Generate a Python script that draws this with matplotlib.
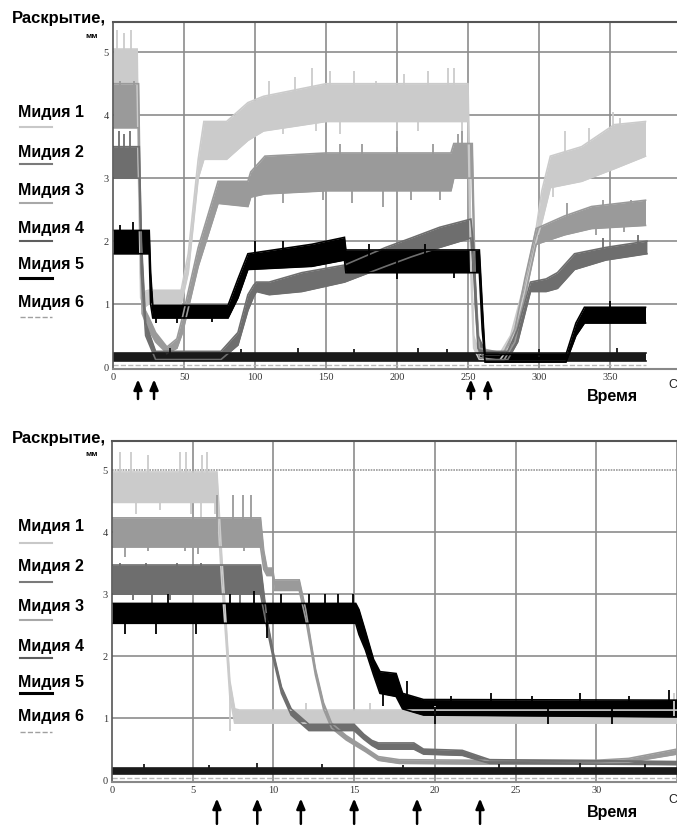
import numpy as np
import matplotlib
matplotlib.use("Agg")
import matplotlib.pyplot as plt
from matplotlib.lines import Line2D

W, H = 677, 827

# ---------------- data: top panel (time, s) ----------------
top_xticks = [0, 50, 100, 150, 200, 250, 300, 350]
top_arrows = [17.6, 28.9, 252, 264]

top_m1_t  = [0, 17, 18, 19.5, 22, 25, 48, 53, 60, 64, 80, 95, 106, 150, 250, 252, 254, 258, 272, 280, 290, 298, 302, 308, 330, 353, 375]
top_m1_lo = [4.5, 4.5, 3.0, 1.1, 0.95, 1.0, 1.0, 1.5, 3.0, 3.3, 3.3, 3.6, 3.75, 3.9, 3.9, 1.5, 0.3, 0.12, 0.1, 0.35, 1.2, 2.0, 2.3, 2.85, 2.95, 3.15, 3.35]
top_m1_hi = [5.05, 5.05, 3.3, 1.4, 1.2, 1.22, 1.22, 1.8, 3.3, 3.9, 3.9, 4.2, 4.3, 4.5, 4.5, 2.0, 0.5, 0.2, 0.2, 0.5, 1.35, 2.2, 2.8, 3.35, 3.5, 3.85, 3.9]
top_m1_spk_t = [3, 8, 13, 110, 120, 128, 140, 143, 153, 160, 170, 185, 200, 205, 215, 222, 236, 240, 246, 310, 318, 335, 352, 357]
top_m1_spk_v = [5.35, 5.3, 5.35, 4.55, 3.7, 4.6, 4.75, 3.75, 4.7, 3.7, 4.7, 4.55, 3.75, 4.65, 3.75, 4.7, 4.75, 4.75, 3.6, 2.7, 3.75, 3.8, 4.05, 3.95]

top_m2_t  = [0, 18, 19, 20.5, 25, 30, 38, 45, 49, 60, 74, 95, 97, 107, 150, 238, 240, 253, 255, 258, 275, 283, 290, 298, 318, 337, 375]
top_m2_lo = [3.8, 3.8, 2.5, 0.85, 0.6, 0.4, 0.22, 0.3, 0.55, 1.6, 2.6, 2.55, 2.7, 2.75, 2.8, 2.8, 3.0, 3.0, 1.0, 0.15, 0.1, 0.4, 1.1, 1.95, 2.1, 2.2, 2.25]
top_m2_hi = [4.5, 4.5, 3.0, 1.0, 0.8, 0.55, 0.32, 0.45, 0.8, 1.9, 2.95, 2.95, 3.1, 3.35, 3.4, 3.4, 3.55, 3.55, 1.4, 0.3, 0.22, 0.6, 1.4, 2.2, 2.4, 2.55, 2.65]
top_m2_spk_t = [5, 15, 120, 148, 160, 168, 175, 190, 200, 210, 225, 230, 243, 246, 300, 320, 340, 345, 360, 365]
top_m2_spk_v = [4.55, 4.55, 2.6, 2.65, 3.55, 2.6, 3.55, 2.55, 3.5, 2.65, 3.55, 2.65, 3.7, 3.75, 1.95, 2.6, 2.1, 2.65, 2.15, 2.65]

top_m3_t  = [0, 18.5, 20, 23, 30, 76, 88, 95, 99, 101, 110, 133, 163, 192, 210, 230, 252, 254, 257, 262, 278, 285, 294, 305, 313, 325, 347, 376]
top_m3_lo = [3.0, 3.0, 1.5, 0.5, 0.12, 0.12, 0.35, 0.9, 1.12, 1.2, 1.15, 1.2, 1.35, 1.6, 1.75, 1.9, 2.05, 1.5, 0.3, 0.12, 0.12, 0.4, 1.2, 1.2, 1.25, 1.55, 1.7, 1.8]
top_m3_hi = [3.5, 3.5, 2.0, 0.7, 0.25, 0.25, 0.55, 1.15, 1.3, 1.35, 1.35, 1.5, 1.62, 1.9, 2.05, 2.22, 2.35, 1.9, 0.5, 0.25, 0.25, 0.6, 1.35, 1.4, 1.5, 1.8, 1.9, 2.0]
top_m3_spk_t = [4, 8, 12, 345, 370]
top_m3_spk_v = [3.75, 3.7, 3.75, 2.05, 2.1]

top_m4_t  = [0, 375]
top_m4_lo = [0.1, 0.1]
top_m4_hi = [0.22, 0.22]
top_m4_spk_t = [40, 90, 130, 170, 215, 235, 300, 355]
top_m4_spk_v = [0.3, 0.28, 0.3, 0.28, 0.3, 0.28, 0.29, 0.3]

top_m5_t  = [0, 25.5, 26.5, 28, 81, 88, 95, 140, 163, 164, 258, 260, 262, 319, 326, 332, 375]
top_m5_lo = [1.8, 1.8, 1.0, 0.78, 0.78, 1.1, 1.55, 1.6, 1.7, 1.5, 1.5, 0.6, 0.08, 0.08, 0.5, 0.7, 0.7]
top_m5_hi = [2.17, 2.17, 1.5, 0.98, 0.98, 1.4, 1.8, 1.95, 2.06, 1.86, 1.86, 1.0, 0.2, 0.2, 0.7, 0.95, 0.95]
top_m5_spk_t = [5, 14, 30, 45, 70, 100, 120, 180, 200, 220, 240, 350]
top_m5_spk_v = [2.25, 2.3, 0.7, 0.7, 0.72, 2.0, 2.0, 1.95, 1.4, 1.95, 1.42, 1.05]

top_m6_t = [0, 375]
top_m6_v = [0.04, 0.04]

# ---------------- data: bottom panel ----------------
bot_xticks = [0, 5, 10, 15, 20, 25, 30]
bot_arrows = [6.5, 9.0, 11.7, 15.0, 18.9, 22.8]

bot_m1_t  = [0, 6.5, 6.8, 7.05, 7.3, 7.6, 7.9, 35]
bot_m1_lo = [4.48, 4.48, 3.2, 2.3, 1.35, 0.92, 0.92, 0.92]
bot_m1_hi = [4.97, 4.97, 3.6, 2.6, 1.6, 1.15, 1.13, 1.13]
bot_m1_spk_t = [0.5, 1.2, 1.5, 2.2, 3.0, 4.2, 4.6, 4.9, 5.5, 5.6, 5.9, 6.4, 7.3, 12, 16, 20, 34.8]
bot_m1_spk_v = [5.3, 5.3, 4.3, 5.25, 4.35, 5.3, 5.3, 4.3, 4.25, 5.25, 5.3, 4.3, 0.8, 1.25, 1.25, 1.2, 1.4]

bot_m2_t  = [0, 9.2, 9.4, 9.6, 9.95, 10.05, 11.6, 12.0, 12.6, 13.1, 13.6, 14.5, 15.7, 16.5, 17.8, 23, 30, 32, 35]
bot_m2_lo = [3.76, 3.76, 3.4, 3.3, 3.3, 3.06, 3.06, 2.6, 1.7, 1.15, 0.84, 0.65, 0.46, 0.32, 0.27, 0.26, 0.27, 0.29, 0.42]
bot_m2_hi = [4.23, 4.23, 3.7, 3.42, 3.42, 3.23, 3.23, 2.75, 1.8, 1.25, 0.92, 0.72, 0.52, 0.38, 0.33, 0.32, 0.32, 0.35, 0.5]
bot_m2_spk_t = [0.8, 2.2, 4.5, 5.3, 6.5, 7.5, 8.1, 8.2, 8.6]
bot_m2_spk_v = [3.6, 3.7, 3.7, 3.65, 4.6, 4.6, 4.6, 3.7, 4.6]

bot_m3_t  = [0, 9.2, 9.6, 10.0, 10.5, 11.1, 12.2, 15.0, 15.6, 16.1, 16.5, 18.7, 19.3, 21.7, 22.6, 23.4, 35]
bot_m3_lo = [3.0, 3.0, 2.45, 1.95, 1.4, 1.05, 0.8, 0.8, 0.66, 0.56, 0.5, 0.5, 0.42, 0.4, 0.33, 0.27, 0.25]
bot_m3_hi = [3.47, 3.47, 2.6, 2.05, 1.5, 1.15, 0.9, 0.9, 0.74, 0.64, 0.6, 0.6, 0.5, 0.48, 0.4, 0.33, 0.3]
bot_m3_spk_t = [0.5, 1.3, 2.1, 2.5, 3.6, 4.0, 5.5, 7.9]
bot_m3_spk_v = [3.5, 2.9, 3.5, 2.85, 2.9, 3.5, 3.5, 2.85]

bot_m4_t  = [0, 35]
bot_m4_lo = [0.1, 0.1]
bot_m4_hi = [0.2, 0.2]
bot_m4_spk_t = [2, 6, 9, 13, 18, 24, 29, 33]
bot_m4_spk_v = [0.26, 0.25, 0.27, 0.26, 0.25, 0.26, 0.27, 0.26]

bot_m5_t  = [0, 15.1, 15.3, 15.7, 16.2, 16.6, 17.6, 18.0, 19.3, 35]
bot_m5_lo = [2.53, 2.53, 2.35, 2.1, 1.7, 1.4, 1.35, 1.15, 1.05, 1.02]
bot_m5_hi = [2.85, 2.85, 2.75, 2.4, 1.95, 1.75, 1.72, 1.4, 1.3, 1.29]
bot_m5_spk_t = [0.8, 2.7, 3.5, 5.2, 7.3, 8.8, 9.6, 10.5, 12.2, 13.2, 14.0, 14.9, 16.8, 18.3, 20, 21, 23.5, 26, 27, 29, 31, 32, 34.5]
bot_m5_spk_v = [2.35, 2.35, 3.0, 2.35, 3.0, 3.05, 2.3, 3.0, 3.0, 3.0, 3.0, 3.0, 1.2, 1.6, 0.9, 1.35, 1.4, 1.35, 0.9, 1.4, 0.9, 1.35, 1.45]

bot_m6_t = [0, 35]
bot_m6_v = [0.04, 0.04]

legend_labels = ["Мидия 1", "Мидия 2", "Мидия 3", "Мидия 4", "Мидия 5", "Мидия 6"]

# ---------------- styles ----------------
c_m1 = "#cbcbcb"
c_m2 = "#9a9a9a"
c_m3 = "#6e6e6e"
c_m4 = "#1a1a1a"
c_m5 = "#000000"
c_m6 = "#b8b8b8"
legend_colors = ["#c8c8c8", "#7a7a7a", "#a8a8a8", "#5e5e5e", "#000000", "#a0a0a0"]
legend_styles = ["-", "-", "-", "-", "-", "--"]
legend_lw = [1.5, 1.5, 1.5, 1.5, 2.2, 1.0]

plt.rcParams["font.family"] = ["Liberation Sans", "DejaVu Sans"]

fig = plt.figure(figsize=(W / 100, H / 100), dpi=100)


def fx(px):
    return px / W


def fy(py):
    return 1 - py / H


def band(ax, t, lo, hi, color, spk_t, spk_v, lw=1.2):
    ax.fill_between(t, lo, hi, color=color, lw=0)
    ax.plot(t, lo, color=color, lw=lw, solid_joinstyle="miter")
    ax.plot(t, hi, color=color, lw=lw, solid_joinstyle="miter")
    mid = (np.interp(spk_t, t, lo) + np.interp(spk_t, t, hi)) / 2
    ax.vlines(spk_t, mid, spk_v, color=color, lw=1.3)


def style_axes(ax, xticks, xlim, ylim, dotted5=False):
    ax.set_xlim(*xlim)
    ax.set_ylim(*ylim)
    ax.set_xticks(xticks)
    ax.set_yticks([0, 1, 2, 3, 4, 5])
    ax.tick_params(length=0, labelsize=7.5, colors="#333333", pad=3)
    for lab in ax.get_xticklabels() + ax.get_yticklabels():
        lab.set_family(["Liberation Serif", "DejaVu Serif"])
    for xv in list(xticks) + [xticks[-1] + (xticks[1] - xticks[0])]:
        if xv != 0:
            ax.axvline(xv, color="#8c8c8c", lw=1.2, zorder=0)
    for yv in [1, 2, 3, 4, 5]:
        if dotted5 and yv == 5:
            ax.axhline(yv, color="#9a9a9a", lw=1.2, ls=(0, (1, 0.6)), zorder=0)
        else:
            ax.axhline(yv, color="#8c8c8c", lw=1.2, zorder=0)
    ax.spines["right"].set_visible(False)
    ax.spines["top"].set_color("#555555")
    ax.spines["top"].set_linewidth(1.5)
    ax.spines["left"].set_color("#555555")
    ax.spines["left"].set_linewidth(1.2)
    ax.spines["bottom"].set_color("#888888")
    ax.spines["bottom"].set_linewidth(1.5)


# ---------------- top axes ----------------
ax1 = fig.add_axes([fx(113), fy(369), fx(681) - fx(113), (369 - 22) / H])
style_axes(ax1, top_xticks, (0, 400), (-0.03, 5.48))
ax1.plot(top_m6_t, top_m6_v, color=c_m6, lw=1.0, ls="--")
band(ax1, top_m1_t, top_m1_lo, top_m1_hi, c_m1, top_m1_spk_t, top_m1_spk_v)
band(ax1, top_m2_t, top_m2_lo, top_m2_hi, c_m2, top_m2_spk_t, top_m2_spk_v)
band(ax1, top_m3_t, top_m3_lo, top_m3_hi, c_m3, top_m3_spk_t, top_m3_spk_v)
band(ax1, top_m4_t, top_m4_lo, top_m4_hi, c_m4, top_m4_spk_t, top_m4_spk_v)
band(ax1, top_m5_t, top_m5_lo, top_m5_hi, c_m5, top_m5_spk_t, top_m5_spk_v)
for a in top_arrows:
    ax1.annotate("", xy=(a, -0.15), xytext=(a, -0.55), xycoords="data",
                 arrowprops=dict(arrowstyle="-|>,head_length=0.6,head_width=0.25",
                                 color="black", lw=1.8),
                 annotation_clip=False)

# ---------------- bottom axes ----------------
ax2 = fig.add_axes([fx(112), fy(782), fx(681) - fx(112), (782 - 441) / H])
style_axes(ax2, bot_xticks, (0, 35.25), (-0.03, 5.47), dotted5=True)
ax2.plot(bot_m6_t, bot_m6_v, color=c_m6, lw=1.0, ls="--")
band(ax2, bot_m1_t, bot_m1_lo, bot_m1_hi, c_m1, bot_m1_spk_t, bot_m1_spk_v)
band(ax2, bot_m2_t, bot_m2_lo, bot_m2_hi, c_m2, bot_m2_spk_t, bot_m2_spk_v)
band(ax2, bot_m3_t, bot_m3_lo, bot_m3_hi, c_m3, bot_m3_spk_t, bot_m3_spk_v)
band(ax2, bot_m4_t, bot_m4_lo, bot_m4_hi, c_m4, bot_m4_spk_t, bot_m4_spk_v)
band(ax2, bot_m5_t, bot_m5_lo, bot_m5_hi, c_m5, bot_m5_spk_t, bot_m5_spk_v)
for a in bot_arrows:
    ax2.annotate("", xy=(a, -0.25), xytext=(a, -0.75), xycoords="data",
                 arrowprops=dict(arrowstyle="-|>,head_length=0.6,head_width=0.25",
                                 color="black", lw=1.8),
                 annotation_clip=False)

# ---------------- texts & legends ----------------
for (y_title, y_mm, y_leg, y_line, y_time) in [
        (18, 36, [113, 152, 190, 228, 265, 303], [127, 164, 203, 241, 278, 317], 397),
        (438, 455, [527, 567, 607, 647, 683, 717], [543, 582, 620, 658, 693, 732], 812)]:
    fig.text(fx(12), fy(y_title), "Раскрытие,", fontsize=12, fontweight="bold",
             ha="left", va="center")
    fig.text(fx(98), fy(y_mm), "мм", fontsize=6, fontweight="bold",
             ha="right", va="center")
    for lab, yl, yln, col, ls, lw in zip(legend_labels, y_leg, y_line,
                                         legend_colors, legend_styles, legend_lw):
        fig.text(fx(18), fy(yl), lab, fontsize=11.5, fontweight="bold",
                 ha="left", va="center")
        fig.add_artist(Line2D([fx(20), fx(52)], [fy(yln), fy(yln)], color=col,
                              lw=lw, ls=ls, transform=fig.transFigure))
    fig.text(fx(612), fy(y_time), "Время", fontsize=11.5, fontweight="bold",
             ha="center", va="center")
    fig.text(fx(668), fy(y_time - 12), "С", fontsize=9, ha="left", va="center",
             color="#222222")

fig.savefig("out.png", dpi=100)
